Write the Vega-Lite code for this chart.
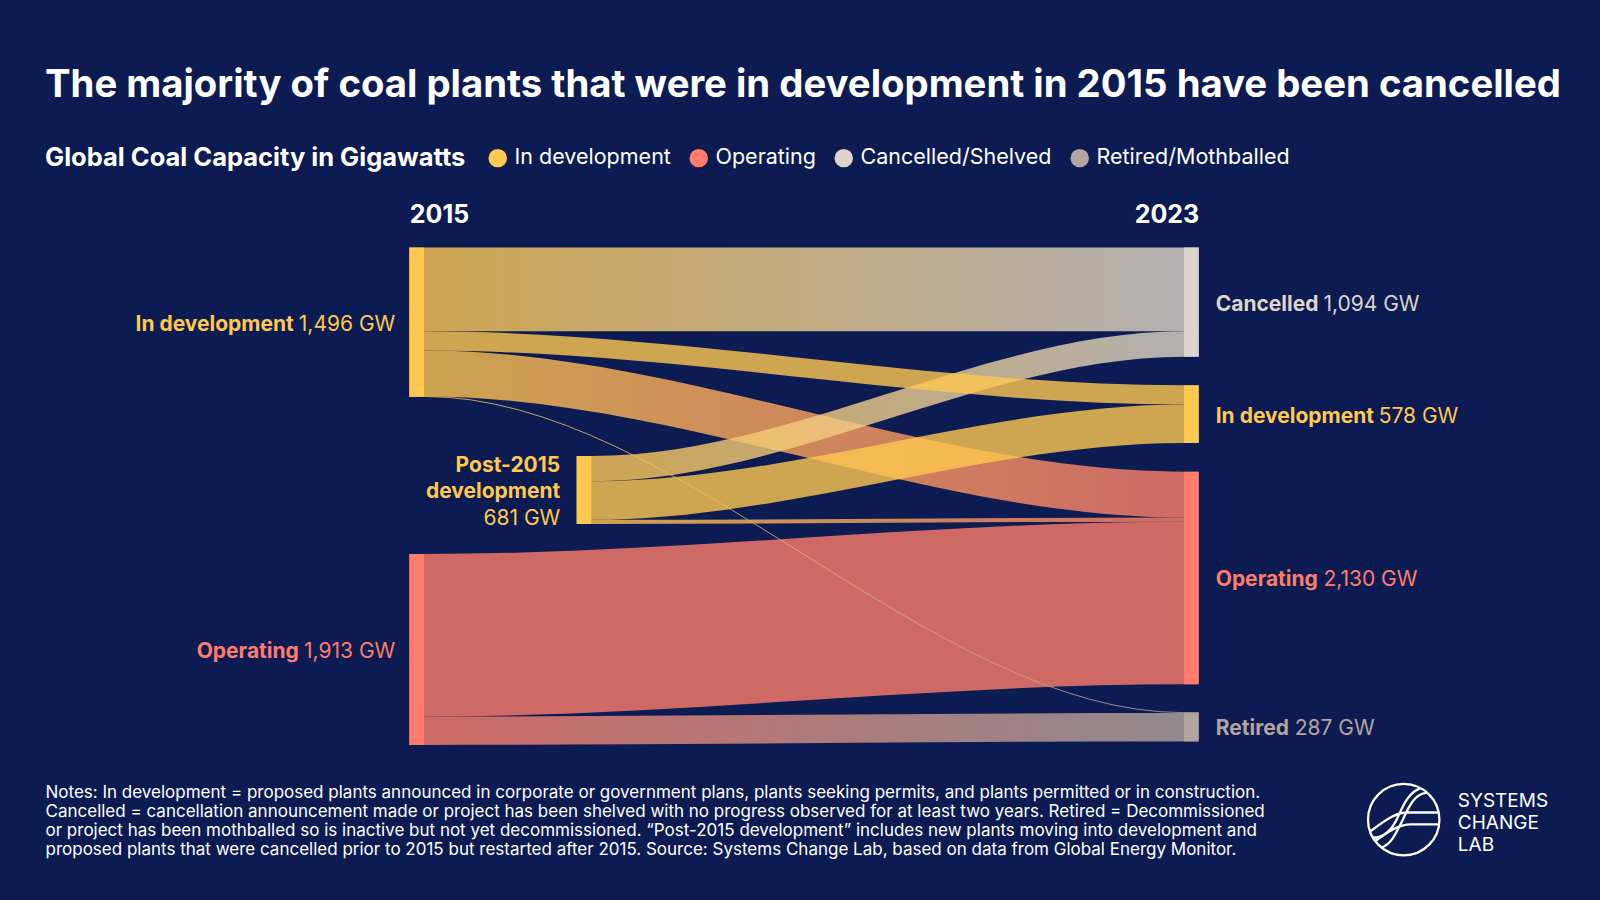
{
  "$schema": "https://vega.github.io/schema/vega-lite/v6.json",
  "width": 789.4,
  "height": 497,
  "autosize": {"type": "none"},
  "padding": {"left": 409.3, "top": 247.5, "right": 401.3, "bottom": 155.5},
  "background": "#0C1B51",
  "config": {"view": {"stroke": null}, "font": "Inter", "text": {"font": "Inter"}},
  "title": {
    "text": "The majority of coal plants that were in development in 2015 have been cancelled",
    "anchor": "start",
    "frame": "group",
    "dx": -364.3,
    "offset": 42,
    "fontSize": 38.3,
    "font": "Inter",
    "fontWeight": "bold",
    "color": "#FFFFFF",
    "limit": 1600
  },
  "datasets": {
    "nodes": [
      {"node": "2015 In development", "status": "In development", "name": "In development", "val": "1,496 GW", "gw": 1496, "side": "left", "x0": 0, "x1": 1.86, "y0": 0, "y1": 1496},
      {"node": "2015 Operating", "status": "Operating", "name": "Operating", "val": "1,913 GW", "gw": 1913, "side": "left", "x0": 0, "x1": 1.86, "y0": 3071, "y1": 4984},
      {"node": "Post-2015 development", "status": "In development", "name": "Post-2015\ndevelopment", "val": "681 GW", "gw": 681, "side": "mid", "x0": 21.2, "x1": 23.06, "y0": 2089, "y1": 2770},
      {"node": "2023 Cancelled", "status": "Cancelled/Shelved", "name": "Cancelled", "val": "1,094 GW", "gw": 1094, "side": "right", "x0": 98.14, "x1": 100, "y0": 0, "y1": 1094},
      {"node": "2023 In development", "status": "In development", "name": "In development", "val": "578 GW", "gw": 578, "side": "right", "x0": 98.14, "x1": 100, "y0": 1381, "y1": 1959},
      {"node": "2023 Operating", "status": "Operating", "name": "Operating", "val": "2,130 GW", "gw": 2130, "side": "right", "x0": 98.14, "x1": 100, "y0": 2246, "y1": 4376},
      {"node": "2023 Retired", "status": "Retired/Mothballed", "name": "Retired", "val": "287 GW", "gw": 287, "side": "right", "x0": 98.14, "x1": 100, "y0": 4661, "y1": 4948}
    ],
    "links": [
      {"link": "In development → Cancelled", "grad": "y-c", "gw": 840, "x": 0, "top": 0, "bot": 840},
      {"link": "In development → Cancelled", "grad": "y-c", "gw": 840, "x": 1.86, "top": 0, "bot": 840},
      {"link": "In development → Cancelled", "grad": "y-c", "gw": 840, "x": 98.14, "top": 0, "bot": 840},
      {"link": "In development → Cancelled", "grad": "y-c", "gw": 840, "x": 100, "top": 0, "bot": 840},
      {"link": "In development → In development", "grad": "y-y", "gw": 192, "x": 0, "top": 840, "bot": 1032},
      {"link": "In development → In development", "grad": "y-y", "gw": 192, "x": 1.86, "top": 840, "bot": 1032},
      {"link": "In development → In development", "grad": "y-y", "gw": 192, "x": 98.14, "top": 1381, "bot": 1573},
      {"link": "In development → In development", "grad": "y-y", "gw": 192, "x": 100, "top": 1381, "bot": 1573},
      {"link": "In development → Operating", "grad": "y-o", "gw": 460, "x": 0, "top": 1032, "bot": 1492},
      {"link": "In development → Operating", "grad": "y-o", "gw": 460, "x": 1.86, "top": 1032, "bot": 1492},
      {"link": "In development → Operating", "grad": "y-o", "gw": 460, "x": 98.14, "top": 2246, "bot": 2706},
      {"link": "In development → Operating", "grad": "y-o", "gw": 460, "x": 100, "top": 2246, "bot": 2706},
      {"link": "In development → Retired", "grad": "y-r", "gw": 4, "x": 0, "top": 1492, "bot": 1496},
      {"link": "In development → Retired", "grad": "y-r", "gw": 4, "x": 1.86, "top": 1492, "bot": 1496},
      {"link": "In development → Retired", "grad": "y-r", "gw": 4, "x": 98.14, "top": 4661, "bot": 4665},
      {"link": "In development → Retired", "grad": "y-r", "gw": 4, "x": 100, "top": 4661, "bot": 4665},
      {"link": "Post-2015 → Cancelled", "grad": "y-c", "gw": 254, "x": 21.2, "top": 2089, "bot": 2343},
      {"link": "Post-2015 → Cancelled", "grad": "y-c", "gw": 254, "x": 23.06, "top": 2089, "bot": 2343},
      {"link": "Post-2015 → Cancelled", "grad": "y-c", "gw": 254, "x": 98.14, "top": 840, "bot": 1094},
      {"link": "Post-2015 → Cancelled", "grad": "y-c", "gw": 254, "x": 100, "top": 840, "bot": 1094},
      {"link": "Post-2015 → In development", "grad": "y-y", "gw": 386, "x": 21.2, "top": 2343, "bot": 2729},
      {"link": "Post-2015 → In development", "grad": "y-y", "gw": 386, "x": 23.06, "top": 2343, "bot": 2729},
      {"link": "Post-2015 → In development", "grad": "y-y", "gw": 386, "x": 98.14, "top": 1573, "bot": 1959},
      {"link": "Post-2015 → In development", "grad": "y-y", "gw": 386, "x": 100, "top": 1573, "bot": 1959},
      {"link": "Post-2015 → Operating", "grad": "y-o", "gw": 41, "x": 21.2, "top": 2729, "bot": 2770},
      {"link": "Post-2015 → Operating", "grad": "y-o", "gw": 41, "x": 23.06, "top": 2729, "bot": 2770},
      {"link": "Post-2015 → Operating", "grad": "y-o", "gw": 41, "x": 98.14, "top": 2706, "bot": 2747},
      {"link": "Post-2015 → Operating", "grad": "y-o", "gw": 41, "x": 100, "top": 2706, "bot": 2747},
      {"link": "Operating → Operating", "grad": "o-o", "gw": 1629, "x": 0, "top": 3071, "bot": 4700},
      {"link": "Operating → Operating", "grad": "o-o", "gw": 1629, "x": 1.86, "top": 3071, "bot": 4700},
      {"link": "Operating → Operating", "grad": "o-o", "gw": 1629, "x": 98.14, "top": 2747, "bot": 4376},
      {"link": "Operating → Operating", "grad": "o-o", "gw": 1629, "x": 100, "top": 2747, "bot": 4376},
      {"link": "Operating → Retired", "grad": "o-r", "gw": 284, "x": 0, "top": 4700, "bot": 4984},
      {"link": "Operating → Retired", "grad": "o-r", "gw": 284, "x": 1.86, "top": 4700, "bot": 4984},
      {"link": "Operating → Retired", "grad": "o-r", "gw": 284, "x": 98.14, "top": 4665, "bot": 4949},
      {"link": "Operating → Retired", "grad": "o-r", "gw": 284, "x": 100, "top": 4665, "bot": 4949}
    ],
    "logo": [
      {"org": "Systems Change Lab", "x": 125.97, "y": 5733}
    ]
  },
  "layer": [
    {
      "data": {"name": "links"},
      "transform": [{"filter": "datum.grad == 'o-o'"}],
      "mark": {"type": "area", "orient": "vertical", "interpolate": "monotone", "opacity": 0.8, "color": "#FF7D6A"},
      "encoding": {
        "x": {"field": "x", "type": "quantitative", "scale": {"domain": [0, 100], "nice": false, "zero": false}, "axis": null},
        "y": {"field": "top", "type": "quantitative", "scale": {"domain": [0, 4980], "reverse": true, "nice": false, "zero": false}, "axis": null, "stack": null},
        "y2": {"field": "bot"},
        "detail": {"field": "link"}
      }
    },
    {
      "data": {"name": "links"},
      "transform": [{"filter": "datum.grad == 'o-r'"}],
      "mark": {"type": "area", "orient": "vertical", "interpolate": "monotone", "opacity": 0.8,
        "color": {"gradient": "linear", "x1": 0, "y1": 0, "x2": 1, "y2": 0, "stops": [{"offset": 0, "color": "#FF7D6A"}, {"offset": 1, "color": "#B2A69E"}]}},
      "encoding": {
        "x": {"field": "x", "type": "quantitative", "scale": {"domain": [0, 100], "nice": false, "zero": false}, "axis": null},
        "y": {"field": "top", "type": "quantitative", "scale": {"domain": [0, 4980], "reverse": true, "nice": false, "zero": false}, "axis": null, "stack": null},
        "y2": {"field": "bot"},
        "detail": {"field": "link"}
      }
    },
    {
      "data": {"name": "links"},
      "transform": [{"filter": "datum.grad == 'y-o'"}],
      "mark": {"type": "area", "orient": "vertical", "interpolate": "monotone", "opacity": 0.8,
        "color": {"gradient": "linear", "x1": 0, "y1": 0, "x2": 1, "y2": 0, "stops": [{"offset": 0, "color": "#FFC850"}, {"offset": 1, "color": "#FF7D6A"}]}},
      "encoding": {
        "x": {"field": "x", "type": "quantitative", "scale": {"domain": [0, 100], "nice": false, "zero": false}, "axis": null},
        "y": {"field": "top", "type": "quantitative", "scale": {"domain": [0, 4980], "reverse": true, "nice": false, "zero": false}, "axis": null, "stack": null},
        "y2": {"field": "bot"},
        "detail": {"field": "link"}
      }
    },
    {
      "data": {"name": "links"},
      "transform": [{"filter": "datum.grad == 'y-c'"}],
      "mark": {"type": "area", "orient": "vertical", "interpolate": "monotone", "opacity": 0.8,
        "color": {"gradient": "linear", "x1": 0, "y1": 0, "x2": 1, "y2": 0, "stops": [{"offset": 0, "color": "#FFC850"}, {"offset": 1, "color": "#DDD5CB"}]}},
      "encoding": {
        "x": {"field": "x", "type": "quantitative", "scale": {"domain": [0, 100], "nice": false, "zero": false}, "axis": null},
        "y": {"field": "top", "type": "quantitative", "scale": {"domain": [0, 4980], "reverse": true, "nice": false, "zero": false}, "axis": null, "stack": null},
        "y2": {"field": "bot"},
        "detail": {"field": "link"}
      }
    },
    {
      "data": {"name": "links"},
      "transform": [{"filter": "datum.grad == 'y-y'"}],
      "mark": {"type": "area", "orient": "vertical", "interpolate": "monotone", "opacity": 0.8, "color": "#FFC850"},
      "encoding": {
        "x": {"field": "x", "type": "quantitative", "scale": {"domain": [0, 100], "nice": false, "zero": false}, "axis": null},
        "y": {"field": "top", "type": "quantitative", "scale": {"domain": [0, 4980], "reverse": true, "nice": false, "zero": false}, "axis": null, "stack": null},
        "y2": {"field": "bot"},
        "detail": {"field": "link"}
      }
    },
    {
      "data": {"name": "links"},
      "transform": [{"filter": "datum.grad == 'y-r'"}],
      "mark": {"type": "line", "interpolate": "monotone", "opacity": 0.8, "strokeWidth": 1,
        "color": {"gradient": "linear", "x1": 0, "y1": 0, "x2": 1, "y2": 0, "stops": [{"offset": 0, "color": "#FFC850"}, {"offset": 1, "color": "#B2A69E"}]}},
      "encoding": {
        "x": {"field": "x", "type": "quantitative", "scale": {"domain": [0, 100], "nice": false, "zero": false}, "axis": null},
        "y": {"field": "top", "type": "quantitative", "scale": {"domain": [0, 4980], "reverse": true, "nice": false, "zero": false}, "axis": null},
        "detail": {"field": "link"}
      }
    },
    {
      "data": {"name": "nodes"},
      "mark": {"type": "rect"},
      "encoding": {
        "x": {"field": "x0", "type": "quantitative", "scale": {"domain": [0, 100], "nice": false, "zero": false},
          "axis": {"orient": "top", "values": [0, 100], "labelExpr": "datum.value == 0 ? '2015' : '2023'", "labelFlush": true, "domain": false, "ticks": false, "tickSize": 0, "grid": false, "title": null, "labelFontSize": 25, "labelFontWeight": "bold", "labelColor": "#FFFFFF", "labelFont": "Inter", "labelPadding": 25, "labelBaseline": "alphabetic"}},
        "x2": {"field": "x1"},
        "y": {"field": "y0", "type": "quantitative", "scale": {"domain": [0, 4980], "reverse": true, "nice": false, "zero": false}, "axis": null},
        "y2": {"field": "y1"},
        "color": {"field": "status", "type": "nominal",
          "scale": {"domain": ["In development", "Operating", "Cancelled/Shelved", "Retired/Mothballed"], "range": ["#FFC850", "#FF7D6A", "#DDD5CB", "#B2A69E"]},
          "legend": {"title": "Global Coal Capacity in Gigawatts", "orient": "none", "legendX": -364.3, "legendY": -100.5, "direction": "horizontal", "titleOrient": "left", "titleFontSize": 25.5, "titleFontWeight": "bold", "titleColor": "#FFFFFF", "titleFont": "Inter", "titlePadding": 21, "titleLimit": 600, "labelFontSize": 21.5, "labelColor": "#FFFFFF", "labelFont": "Inter", "labelLimit": 400, "symbolType": "circle", "symbolSize": 340, "symbolStrokeWidth": 0, "symbolOpacity": 1, "columnPadding": 17, "labelOffset": 6, "padding": 0}}
      }
    },
    {
      "data": {"name": "nodes"},
      "transform": [{"filter": "datum.side == 'left'"}, {"fold": ["y0", "y1"], "as": ["edge", "pos"]}],
      "mark": {"type": "text", "align": "right", "baseline": "alphabetic", "dx": -14, "dy": 8.5, "fontSize": 21, "font": "Inter"},
      "encoding": {
        "x": {"field": "x0", "type": "quantitative", "scale": {"domain": [0, 100], "nice": false, "zero": false}, "axis": null},
        "y": {"aggregate": "mean", "field": "pos", "type": "quantitative", "scale": {"domain": [0, 4980], "reverse": true, "nice": false, "zero": false}, "axis": null},
        "text": {"field": "val"},
        "fill": {"field": "status", "type": "nominal", "scale": {"domain": ["In development", "Operating", "Cancelled/Shelved", "Retired/Mothballed"], "range": ["#FFC850", "#FF7D6A", "#DDD5CB", "#B2A69E"]}, "legend": null},
        "detail": {"field": "name"}
      }
    },
    {
      "data": {"name": "nodes"},
      "transform": [{"filter": "datum.side == 'left'"}, {"fold": ["y0", "y1"], "as": ["edge", "pos"]}],
      "mark": {"type": "text", "align": "right", "baseline": "alphabetic", "dx": {"expr": "datum.name == 'In development' ? -115.5 : -110.5"}, "dy": 8.5, "fontSize": 21, "font": "Inter", "fontWeight": "bold"},
      "encoding": {
        "x": {"field": "x0", "type": "quantitative", "scale": {"domain": [0, 100], "nice": false, "zero": false}, "axis": null},
        "y": {"aggregate": "mean", "field": "pos", "type": "quantitative", "scale": {"domain": [0, 4980], "reverse": true, "nice": false, "zero": false}, "axis": null},
        "text": {"field": "name"},
        "fill": {"field": "status", "type": "nominal", "scale": {"domain": ["In development", "Operating", "Cancelled/Shelved", "Retired/Mothballed"], "range": ["#FFC850", "#FF7D6A", "#DDD5CB", "#B2A69E"]}, "legend": null}
      }
    },
    {
      "data": {"name": "nodes"},
      "transform": [{"filter": "datum.side == 'right'"}, {"fold": ["y0", "y1"], "as": ["edge", "pos"]}],
      "mark": {"type": "text", "align": "left", "baseline": "alphabetic", "dx": 17, "dy": 8.5, "fontSize": 21, "font": "Inter", "fontWeight": "bold"},
      "encoding": {
        "x": {"field": "x1", "type": "quantitative", "scale": {"domain": [0, 100], "nice": false, "zero": false}, "axis": null},
        "y": {"aggregate": "mean", "field": "pos", "type": "quantitative", "scale": {"domain": [0, 4980], "reverse": true, "nice": false, "zero": false}, "axis": null},
        "text": {"field": "name"},
        "fill": {"field": "status", "type": "nominal", "scale": {"domain": ["In development", "Operating", "Cancelled/Shelved", "Retired/Mothballed"], "range": ["#FFC850", "#FF7D6A", "#DDD5CB", "#B2A69E"]}, "legend": null}
      }
    },
    {
      "data": {"name": "nodes"},
      "transform": [{"filter": "datum.side == 'right'"}, {"fold": ["y0", "y1"], "as": ["edge", "pos"]}],
      "mark": {"type": "text", "align": "left", "baseline": "alphabetic", "dx": {"expr": "datum.name == 'Cancelled' ? 124.7 : datum.name == 'In development' ? 180 : datum.name == 'Operating' ? 124.7 : 96"}, "dy": 8.5, "fontSize": 21, "font": "Inter"},
      "encoding": {
        "x": {"field": "x1", "type": "quantitative", "scale": {"domain": [0, 100], "nice": false, "zero": false}, "axis": null},
        "y": {"aggregate": "mean", "field": "pos", "type": "quantitative", "scale": {"domain": [0, 4980], "reverse": true, "nice": false, "zero": false}, "axis": null},
        "text": {"field": "val"},
        "fill": {"field": "status", "type": "nominal", "scale": {"domain": ["In development", "Operating", "Cancelled/Shelved", "Retired/Mothballed"], "range": ["#FFC850", "#FF7D6A", "#DDD5CB", "#B2A69E"]}, "legend": null},
        "detail": {"field": "name"}
      }
    },
    {
      "data": {"name": "nodes"},
      "transform": [{"filter": "datum.side == 'mid'"}, {"fold": ["y0", "y1"], "as": ["edge", "pos"]}],
      "mark": {"type": "text", "align": "right", "baseline": "alphabetic", "dx": -16.4, "dy": -18.3, "lineBreak": "\n", "lineHeight": 26.6, "fontSize": 21, "font": "Inter", "fontWeight": "bold"},
      "encoding": {
        "x": {"field": "x0", "type": "quantitative", "scale": {"domain": [0, 100], "nice": false, "zero": false}, "axis": null},
        "y": {"aggregate": "mean", "field": "pos", "type": "quantitative", "scale": {"domain": [0, 4980], "reverse": true, "nice": false, "zero": false}, "axis": null},
        "text": {"field": "name"},
        "fill": {"field": "status", "type": "nominal", "scale": {"domain": ["In development", "Operating", "Cancelled/Shelved", "Retired/Mothballed"], "range": ["#FFC850", "#FF7D6A", "#DDD5CB", "#B2A69E"]}, "legend": null}
      }
    },
    {
      "data": {"name": "nodes"},
      "transform": [{"filter": "datum.side == 'mid'"}, {"fold": ["y0", "y1"], "as": ["edge", "pos"]}],
      "mark": {"type": "text", "align": "right", "baseline": "alphabetic", "dx": -16.4, "dy": 35.5, "fontSize": 21, "font": "Inter"},
      "encoding": {
        "x": {"field": "x0", "type": "quantitative", "scale": {"domain": [0, 100], "nice": false, "zero": false}, "axis": null},
        "y": {"aggregate": "mean", "field": "pos", "type": "quantitative", "scale": {"domain": [0, 4980], "reverse": true, "nice": false, "zero": false}, "axis": null},
        "text": {"field": "val"},
        "fill": {"field": "status", "type": "nominal", "scale": {"domain": ["In development", "Operating", "Cancelled/Shelved", "Retired/Mothballed"], "range": ["#FFC850", "#FF7D6A", "#DDD5CB", "#B2A69E"]}, "legend": null},
        "detail": {"field": "name"}
      }
    },
    {
      "data": {"name": "logo"},
      "mark": {"type": "point", "filled": false, "stroke": "#FFFFFF", "strokeWidth": 2.3, "opacity": 1, "size": 5098,
        "shape": "M-1,0A1,1,0,1,1,1,0A1,1,0,1,1,-1,0Z M0.62,-0.75C0.25,-0.7,0.1,-0.25,-0.05,0.05C-0.2,0.35,-0.35,0.7,-0.62,0.78 M0.45,-0.87C0.1,-0.75,-0.05,-0.3,-0.2,0C-0.35,0.3,-0.55,0.5,-0.86,0.5 M-0.93,0.32C-0.55,0.05,-0.25,-0.2,0.1,-0.2L0.98,-0.2 M-0.8,0.6C-0.45,0.35,-0.15,0.13,0.2,0.13L0.99,0.13"},
      "encoding": {
        "x": {"field": "x", "type": "quantitative", "scale": {"domain": [0, 100], "nice": false, "zero": false},
          "axis": {"orient": "bottom", "labels": false, "ticks": false, "domain": false, "grid": false,
            "title": [
              "Notes: In development = proposed plants announced in corporate or government plans, plants seeking permits, and plants permitted or in construction.",
              "Cancelled = cancellation announcement made or project has been shelved with no progress observed for at least two years. Retired = Decommissioned",
              "or project has been mothballed so is inactive but not yet decommissioned. “Post-2015 development” includes new plants moving into development and",
              "proposed plants that were cancelled prior to 2015 but restarted after 2015. Source: Systems Change Lab, based on data from Global Energy Monitor."
            ],
            "titleX": -364.3, "titleY": 40, "titleAlign": "left", "titleAnchor": "start", "titleBaseline": "top", "titleFontSize": 17, "titleFontWeight": "normal", "titleColor": "#FFFFFF", "titleFont": "Inter", "titleLineHeight": 19.1, "titleLimit": 1500}},
        "y": {"field": "y", "type": "quantitative", "scale": {"domain": [0, 4980], "reverse": true, "nice": false, "zero": false},
          "axis": {"orient": "right", "labels": false, "ticks": false, "domain": false, "grid": false,
            "title": ["SYSTEMS", "CHANGE", "LAB"],
            "titleAngle": 0, "titleX": 258.6, "titleY": 559.2, "titleAlign": "left", "titleBaseline": "alphabetic", "titleFontSize": 19, "titleFontWeight": "normal", "titleColor": "#FFFFFF", "titleFont": "Inter", "titleLineHeight": 21.7, "titleLimit": 300}},
        "tooltip": {"field": "org"}
      }
    }
  ],
  "resolve": {"axis": {"x": "independent", "y": "independent"}}
}
